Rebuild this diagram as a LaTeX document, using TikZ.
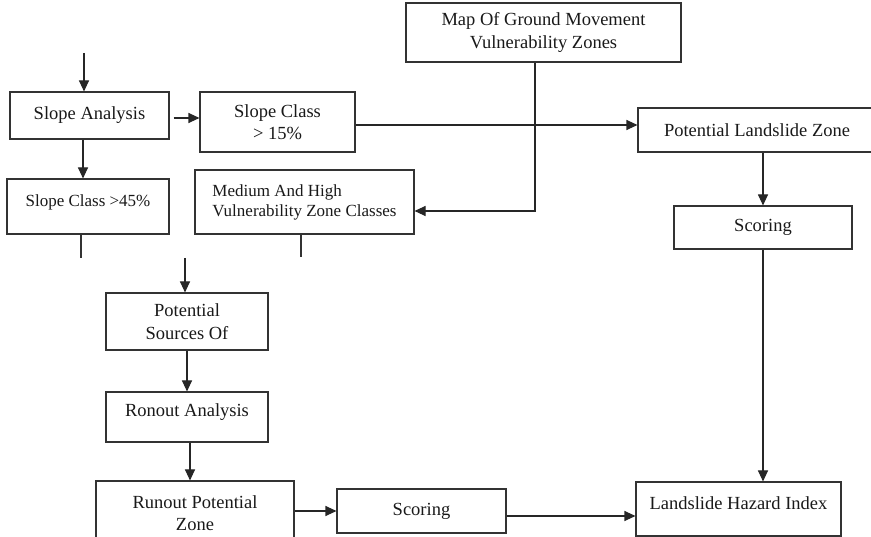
\documentclass[tikz,border=0pt]{standalone}
\usepackage{fontspec}
\setmainfont{Liberation Serif}
\usetikzlibrary{arrows.meta,calc}
\begin{document}
\begin{tikzpicture}[x=1pt,y=-1pt,
  box/.style={draw=black!80, line width=1.1pt, inner sep=0pt, align=center, text=black!90,
    font=\fontsize{18.5}{22.5}\selectfont},
  smallbox/.style={box, font=\fontsize{17}{20}\selectfont},
  arr/.style={draw=black!85, line width=1.1pt, -{Triangle[length=11pt,width=10pt]}},
  ln/.style={draw=black!80, line width=1.1pt}]
\useasboundingbox (0,0) rectangle (871,537);
% boxes
\node[box, minimum width=159, minimum height=47] (sa) at (89.5,115.5) {Slope Analysis};
\node[box, minimum width=155, minimum height=60] (sc15) at (277.5,122) {Slope Class\\ {>} 15\%};
\node[smallbox, minimum width=162, minimum height=55] (sc45) at (88,206.5) {Slope Class {>}45\%\\[-9pt]\mbox{}};
\node[smallbox, minimum width=219, minimum height=64, align=left] (mh) at (304.5,202) {Medium And High\\Vulnerability Zone Classes};
\node[box, minimum width=275, minimum height=59] (map) at (543.5,32.5) {Map Of Ground Movement\\Vulnerability Zones};
\node[box, minimum width=238, minimum height=44] (plz) at (757,130) {Potential Landslide Zone};
\node[box, minimum width=178, minimum height=43] (sr) at (763,227.5) {Scoring};
\node[box, minimum width=162, minimum height=57] (ps) at (187,321.5) {Potential\\Sources Of};
\node[box, minimum width=162, minimum height=50] (ra) at (187,417) {Ronout Analysis\\[-9pt]\mbox{}};
\node[box, minimum width=198, minimum height=64] (rpz) at (195,513) {Runout Potential\\Zone};
\node[box, minimum width=169, minimum height=44] (sb) at (421.5,511) {Scoring};
\node[box, minimum width=205, minimum height=54] (lhi) at (738.5,509) {Landslide Hazard Index\\[-11pt]\mbox{}};
% free ends
\coordinate (top) at (84,53);
\coordinate (stubL) at (81,258);
\coordinate (stubR) at (301,257);
\coordinate (pin) at (185,258);
% connectors
\draw[arr] (top) -- (top |- sa.north);
\draw[arr] ($(sa.east |- 0,118)+(4,0)$) -- (sc15.west |- 0,118);
\draw[arr] (sa.south -| 83,0) -- (sc45.north -| 83,0);
\draw[arr] (sc15.east |- 0,125) -- (plz.west |- 0,125);
\draw[arr] (map.south -| 535,0) |- (mh.east |- 0,211);
\draw[arr] (plz.south -| sr.north) -- (sr.north);
\draw[arr] (sr.south) -- (sr.south |- lhi.north);
\draw[ln] (sc45.south -| stubL) -- (stubL);
\draw[ln] (mh.south -| stubR) -- (stubR);
\draw[arr] (pin) -- (pin |- ps.north);
\draw[arr] (ps.south) -- (ra.north);
\draw[arr] (ra.south -| 190,0) -- (rpz.north -| 190,0);
\draw[arr] (rpz.east |- 0,511) -- (sb.west |- 0,511);
\draw[arr] (sb.east |- 0,516) -- (lhi.west |- 0,516);
\end{tikzpicture}
\end{document}
